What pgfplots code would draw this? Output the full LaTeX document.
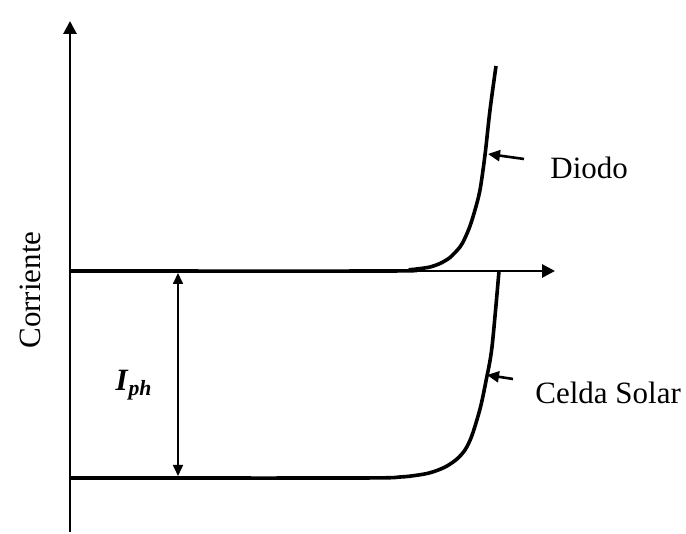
\documentclass[border=0pt]{standalone}
\usepackage{pgfplots}
\pgfplotsset{compat=1.18}
\usepackage{fontspec}
\setmainfont{Liberation Serif}
\usetikzlibrary{arrows.meta}

% diode curve and solar cell curve (solar cell = diode shifted down by I_ph)
\pgfplotstableread{
x y
0 0
320 0
340 1.3
350 2.4
360 4
370 7.5
380 13.5
390 24
395 33
400 45
405 61
410 81
415 116
420 161
426 205
}\diodo
\pgfplotstableread{
x y
0 -207
290 -207
330 -206
345 -204.5
357 -202.5
367 -199.5
377 -195
387 -188
395 -179
401 -167
406 -152
411 -134
416 -110
422 -76
429 0
}\celda

\begin{document}
\begin{tikzpicture}
\begin{axis}[
    scale only axis,
    width=343pt, height=266pt,
    xmin=-70, xmax=616,
    ymin=-261, ymax=271,
    axis lines=none,
    clip=false,
    font=\fontsize{15.5}{18}\selectfont,
]
\path (axis cs:-70,-261) rectangle (axis cs:616,271);
% axes
\draw[line width=1.4pt, -{Triangle[length=6.5pt,width=6.5pt]}] (axis cs:0,-261) -- (axis cs:0,250);
\draw[line width=1.4pt, -{Triangle[length=6.5pt,width=6.5pt]}] (axis cs:0,0) -- (axis cs:485,0);
% curves
\addplot[black, line width=1.8pt, smooth, tension=0.5] table {\diodo};
\addplot[black, line width=1.8pt, smooth, tension=0.5] table {\celda};
% I_ph double arrow
\draw[line width=0.8pt, {Triangle[length=5.5pt,width=5pt]}-{Triangle[length=5.5pt,width=5pt]}] (axis cs:108,-2) -- (axis cs:108,-205);
\node at (axis cs:64,-114) {\textbf{\textit{I}}\textsubscript{\textbf{\textit{ph}}}};
% label arrows
\draw[line width=1.3pt, -{Triangle[length=6pt,width=5.5pt]}] (axis cs:454,112) -- (axis cs:418,117);
\draw[line width=1.3pt, -{Triangle[length=6pt,width=5.5pt]}] (axis cs:443,-108) -- (axis cs:417,-104);
\node[anchor=west, inner sep=0pt] at (axis cs:480,103) {Diodo};
\node[anchor=west, inner sep=0pt] at (axis cs:465,-122) {Celda Solar};
\node[rotate=90] at (axis cs:-40,-19) {Corriente};
\end{axis}
\end{tikzpicture}
\end{document}
